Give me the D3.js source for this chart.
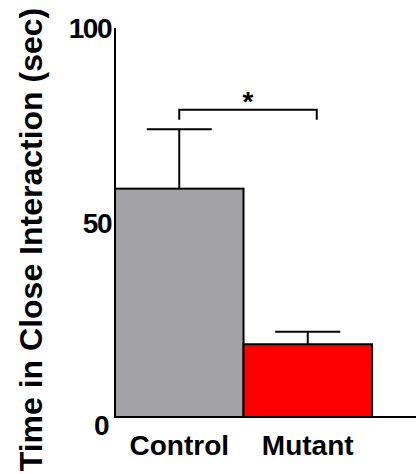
<!DOCTYPE html>
<html>
<head>
<meta charset="utf-8">
<script src="https://cdn.jsdelivr.net/npm/d3@7"></script>
<style>
  html, body { margin: 0; padding: 0; background: #fff; }
  svg { display: block; }
  text { font-family: "Liberation Sans", Arial, sans-serif; font-weight: bold; fill: #000; }
</style>
</head>
<body>
<script>
// Group means and error (upper SEM)
const groups = ["Control", "Mutant"];
const means = [58.7, 18.7];
const errors = [15.3, 3.2];
const barColors = ["#a3a2a7", "#ff0000"];
const yTicks = [0, 50, 100];
const yLabel = "Time in Close Interaction (sec)";
const sigMark = "*";
const bracketValue = 79;

const W = 416, H = 474;
const plotLeft = 115, plotRight = 372, plotTop = 28, plotBottom = 417;

const svg = d3.select("body").append("svg")
  .attr("width", W).attr("height", H);

const x = d3.scaleBand().domain(groups).range([plotLeft, plotRight]).padding(0);
const y = d3.scaleLinear().domain([0, 100]).range([plotBottom, plotTop]);

// Bars
svg.selectAll("rect.bar").data(groups).join("rect")
  .attr("class", "bar")
  .attr("x", d => x(d))
  .attr("width", x.bandwidth())
  .attr("y", (d, i) => y(means[i]))
  .attr("height", (d, i) => y(0) - y(means[i]))
  .attr("fill", (d, i) => barColors[i])
  .attr("stroke", "#000")
  .attr("stroke-width", 2);

// Error bars (upper only)
const capHalf = 32.5;
groups.forEach((g, i) => {
  const cx = x(g) + x.bandwidth() / 2;
  const yTop = y(means[i] + errors[i]);
  svg.append("line")
    .attr("x1", cx).attr("x2", cx)
    .attr("y1", y(means[i])).attr("y2", yTop)
    .attr("stroke", "#000").attr("stroke-width", 2);
  svg.append("line")
    .attr("x1", cx - capHalf).attr("x2", cx + capHalf)
    .attr("y1", yTop).attr("y2", yTop)
    .attr("stroke", "#000").attr("stroke-width", 2);
});

// Y axis: line plus tick labels, no tick marks
const yAxis = svg.append("g")
  .attr("transform", `translate(${plotLeft},0)`)
  .call(d3.axisLeft(y).tickValues(yTicks).tickSize(0).tickPadding(5).tickFormat(d3.format("d")));
yAxis.select(".domain").remove();
yAxis.selectAll("text")
  .attr("font-size", 28)
  .attr("font-family", "Liberation Sans, Arial, sans-serif")
  .attr("font-weight", "bold")
  .attr("letter-spacing", -1.5)
  .attr("dy", d => d === 0 ? "0.62em" : "0.34em")
  .attr("x", d => d === 0 ? -7 : -4);
svg.append("line")
  .attr("x1", plotLeft).attr("x2", plotLeft)
  .attr("y1", y(100)).attr("y2", y(0))
  .attr("stroke", "#000").attr("stroke-width", 2);

// X axis baseline running to the right edge
svg.append("line")
  .attr("x1", plotLeft).attr("x2", W)
  .attr("y1", y(0)).attr("y2", y(0))
  .attr("stroke", "#000").attr("stroke-width", 2);

// Group labels
svg.selectAll("text.xlab").data(groups).join("text")
  .attr("class", "xlab")
  .attr("x", d => x(d) + x.bandwidth() / 2)
  .attr("y", 455)
  .attr("text-anchor", "middle")
  .attr("font-size", 28)
  .text(d => d);

// Y axis title
svg.append("text")
  .attr("transform", `translate(42,${(plotTop + plotBottom) / 2 + 17}) rotate(-90)`)
  .attr("text-anchor", "middle")
  .attr("font-size", 32)
  .text(yLabel);

// Significance bracket
const bx1 = x(groups[0]) + x.bandwidth() / 2;
const bx2 = x(groups[1]) + x.bandwidth() / 2 + 9;
const by = y(bracketValue);
svg.append("path")
  .attr("d", `M${bx1},${by + 10}V${by}H${bx2}V${by + 10}`)
  .attr("fill", "none")
  .attr("stroke", "#000")
  .attr("stroke-width", 2);
svg.append("text")
  .attr("x", (bx1 + bx2) / 2)
  .attr("y", by + 1.5)
  .attr("text-anchor", "middle")
  .attr("font-size", 28)
  .text(sigMark);
</script>
</body>
</html>
